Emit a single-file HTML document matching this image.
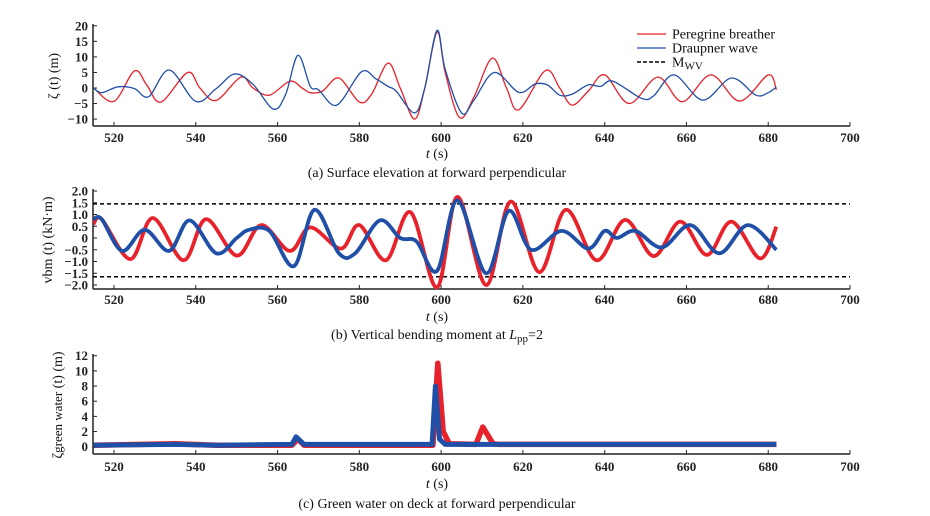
<!DOCTYPE html>
<html><head><meta charset="utf-8">
<style>
html,body{margin:0;padding:0;background:#fff;}
svg{display:block;font-family:"Liberation Serif",serif;}
.tk{font-size:13px;fill:#222;font-weight:bold;}
.cap{font-size:14px;fill:#111;}
</style></head>
<body>
<svg id="chart" width="930" height="516" viewBox="0 0 930 516" xmlns="http://www.w3.org/2000/svg"></svg>
<script>
// ---- data ----
const xTicks = [520,540,560,580,600,620,640,660,680,700];
const aTicks = [20,15,10,5,0,-5,-10];
const bTicks = [2.0,1.5,1.0,0.5,0,-0.5,-1.0,-1.5,-2.0];
const cTicks = [12,10,8,6,4,2,0];
const aRedT = [515,520,525,528,531.5,538,541,545,551,554,558,563,566,568,571,575,580,583,587,590,593.5,596,599,601,604.5,608,612.5,616,619,625.5,629,632,636,640,646,653,659,666,673,680,682];
const aRedV = [0,-4.3,5.5,1,-4.5,5,0,-4,3.5,0,-2.3,2.2,0,-1.5,-1,3.2,-4.5,-2,8,0,-10,0,18,5,-9.5,-3,9.6,0,-7,5.6,0,-5.5,-1,4.2,-5,3.5,-4.4,4.2,-4.2,4.2,-0.6];
const aBlueT = [515,517,521,525,528.5,533.5,540,545,549.5,554,559,562,565,568,570,574.5,580.5,584,587,589,593.5,596,599,601,605,608,613,619,623,626,629,632,636,639,642,649,652,657,664,671,677,680,682];
const aBlueV = [0,-1.5,0.4,-0.2,-2.8,5.8,-4.3,-0.2,4.5,1.2,-6.8,-2,10.5,0.5,-0.5,-5.5,5.2,3,0.5,-1,-8,0,18.5,6,-8,-4,5,-1.4,1.3,1,-2.3,-2,1,0.5,2.2,-3.3,-2.5,4.2,-3.9,3.2,-2.3,-1.5,0.3];
const bRedT = [515,517,524,529.5,537,542.5,550,556,563,568,575.5,580,586.5,592.5,599,604,611,617,624,630.5,638,645,652,658.5,665,671,678,682];
const bRedV = [0.6,0.8,-0.9,0.85,-0.95,0.8,-0.75,0.55,-0.55,0.45,-0.45,0.55,-0.95,1.1,-2.1,1.75,-2.0,1.55,-1.45,1.2,-0.95,0.77,-0.77,0.7,-0.72,0.7,-0.87,0.48];
const bBlueT = [515,517,522,527.5,533.5,538.5,545,550,553,558,564,569,575,579,585,590,594,599,604,611,616.5,622,629.5,636,640,643,647.5,654,661,668,675,682];
const bBlueV = [0.8,0.8,-0.55,0.35,-0.55,0.75,-0.65,0,0.35,0.3,-1.2,1.2,-0.65,-0.65,0.75,0,-0.15,-1.4,1.6,-1.5,1.15,-0.5,0.3,-0.45,0.3,0,0.3,-0.4,0.55,-0.65,0.55,-0.5];
const mwvLevels = [1.45,-1.65];
const cRedT = [515,535,545,563.5,565,566.5,598,599.2,600.5,602,608.5,610.2,612.7,614,682];
const cRedV = [0.2,0.4,0.2,0.2,1.0,0.2,0.2,11,2,0.4,0.3,2.6,0.4,0.3,0.3];
const cBlueT = [515,535,545,563.5,564.5,566.5,597.8,598.6,599.6,601,682];
const cBlueV = [0.2,0.3,0.2,0.3,1.3,0.3,0.3,8,1,0.3,0.3];

const NS="http://www.w3.org/2000/svg";
const svg=document.getElementById('chart');
function mk(tag,attrs,parent){const e=document.createElementNS(NS,tag);for(const k in attrs)e.setAttribute(k,attrs[k]);(parent||svg).appendChild(e);return e;}
const X0=93, X1=850;
const xs = t => 114 + (t-520)*(736/180);
function smoothPath(T,V,ys){
  const p=T.map((t,i)=>[xs(t),ys(V[i])]);
  let d='M'+p[0][0].toFixed(1)+','+p[0][1].toFixed(1);
  for(let i=0;i<p.length-1;i++){
    const p0=p[Math.max(0,i-1)],p1=p[i],p2=p[i+1],p3=p[Math.min(p.length-1,i+2)];
    const c1=[p1[0]+(p2[0]-p0[0])/6,p1[1]+(p2[1]-p0[1])/6];
    const c2=[p2[0]-(p3[0]-p1[0])/6,p2[1]-(p3[1]-p1[1])/6];
    d+=' C'+c1.map(v=>v.toFixed(1)).join(',')+' '+c2.map(v=>v.toFixed(1)).join(',')+' '+p2[0].toFixed(1)+','+p2[1].toFixed(1);
  }
  return d;
}
function linePath(T,V,ys){return T.map((t,i)=>(i?'L':'M')+xs(t).toFixed(1)+','+ys(V[i]).toFixed(1)).join(' ');}

function panel(id,ys,yTicks,fmt,axisY,topY,ylabel,ylabelX,caption,capY,tickLabY,tLabY){
  const g=mk('g',{});
  
  
  const ax=mk('g',{},g);
  
  
  mk('line',{x1:X0,y1:axisY,x2:X1,y2:axisY,stroke:'#222','stroke-width':1.5},ax);
  mk('line',{x1:X0,y1:topY-2,x2:X0,y2:axisY,stroke:'#222','stroke-width':1.5},ax);
  xTicks.forEach(t=>{
    mk('line',{x1:xs(t),y1:axisY,x2:xs(t),y2:axisY-4,stroke:'#222','stroke-width':1},ax);
    const tx=mk('text',{x:xs(t),y:tickLabY,'text-anchor':'middle',class:'tk'},ax);tx.textContent=t;
  });
  yTicks.forEach(v=>{
    mk('line',{x1:X0,y1:ys(v),x2:X0+4,y2:ys(v),stroke:'#222','stroke-width':1},ax);
    const tx=mk('text',{x:88,y:ys(v)+4.5,'text-anchor':'end',class:'tk'},ax);tx.textContent=fmt(v);
  });
  const yl=mk('text',{x:ylabelX,y:(topY+axisY)/2,'text-anchor':'middle',class:'cap',transform:`rotate(-90 ${ylabelX} ${(topY+axisY)/2})`},g);
  
  
  yl.innerHTML=ylabel;
  const xl=mk('text',{x:437,y:tLabY,'text-anchor':'middle',class:'cap'},g);
  
  
  xl.innerHTML='<tspan font-style="italic">t</tspan> (s)';
  const cp=mk('text',{x:437,y:capY,'text-anchor':'middle',class:'cap'},g);
  
  
  cp.innerHTML=caption;
  return g;
}

// Panel a
const ysA=v=>88-v*3.11;
const ga=panel('panel-a',ysA,aTicks,v=>v===0?'0':(v<0?'\u2212'+(-v):v),126,26,'ζ (t) (m)',58,'(a) Surface elevation at forward perpendicular',177,142,158);
let p=mk('path',{d:smoothPath(aRedT,aRedV,ysA),fill:'none',stroke:'#e8222a','stroke-width':1.3},ga);

p=mk('path',{d:smoothPath(aBlueT,aBlueV,ysA),fill:'none',stroke:'#1f4fa6','stroke-width':1.3},ga);


// legend
const lg=mk('g',{});


[['Peregrine breather','#e8222a',''],['Draupner wave','#1f4fa6',''],['M<tspan baseline-shift="-3" font-size="11">WV</tspan>','#000','4,2']].forEach((e,i)=>{
  const y=34+i*14;
  const en=mk('g',{},lg);
  
  
  mk('line',{x1:637,y1:y,x2:666,y2:y,stroke:e[1],'stroke-width':e[2]?1.5:1.3,'stroke-dasharray':e[2]||'none'},en);
  const t=mk('text',{x:672,y:y+4.5,class:'cap'},en);t.innerHTML=e[0];
});

// Panel b
const ysB=v=>238-v*23.5;
const gb=panel('panel-b',ysB,bTicks,v=>v===0?'0':(v<0?'\u2212'+(-v).toFixed(1):v.toFixed(1)),289,191,'vbm (t) (kN·m)',52,'(b) Vertical bending moment at <tspan font-style="italic">L</tspan><tspan baseline-shift="-3" font-size="11">pp</tspan>=2',339,304,321);
mwvLevels.forEach(v=>{
  const l=mk('line',{x1:X0,y1:ysB(v),x2:X1,y2:ysB(v),stroke:'#000','stroke-width':1.5,'stroke-dasharray':'4,3'},gb);
  
});
p=mk('path',{d:smoothPath(bRedT,bRedV,ysB),fill:'none',stroke:'#e8222a','stroke-width':3.8},gb);

p=mk('path',{d:smoothPath(bBlueT,bBlueV,ysB),fill:'none',stroke:'#1f4fa6','stroke-width':3.8},gb);


// Panel c
const ysC=v=>446.7-v*7.58;
const gc=panel('panel-c',ysC,cTicks,v=>String(v),454,356,'ζ<tspan font-size="13">green water</tspan> (t) (m)',62,'(c) Green water on deck at forward perpendicular',508,471,488);
p=mk('path',{d:linePath(cRedT,cRedV,ysC),fill:'none',stroke:'#e8222a','stroke-width':5.5,'stroke-linejoin':'round'},gc);

p=mk('path',{d:linePath(cBlueT,cBlueV,ysC),fill:'none',stroke:'#1f4fa6','stroke-width':5,'stroke-linejoin':'round'},gc);

</script>
</body></html>
